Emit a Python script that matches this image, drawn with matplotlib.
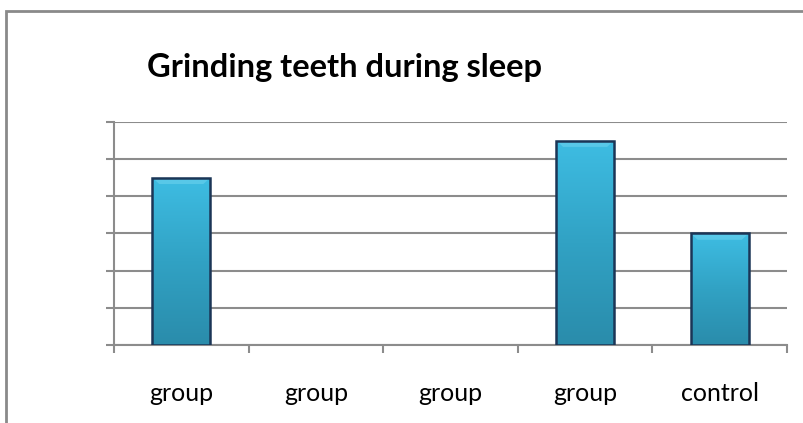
import numpy as np
import matplotlib.pyplot as plt
from matplotlib.patches import Rectangle
from matplotlib.colors import LinearSegmentedColormap

# categories and values of the bars
groups = ['group', 'group', 'group', 'group', 'control']
values = [4.5, 0, 0, 5.5, 3]

plt.rcParams['font.family'] = ['Lato', 'DejaVu Sans']

fig = plt.figure(figsize=(8.04, 4.23), dpi=100)
ax = fig.add_axes([0.1418, 0.1844, 0.8371, 0.5272])

# outer chart frame (right and bottom edges run off the canvas)
top = (423 - 11) / 423
fig.patches.append(Rectangle((6 / 804, -0.2), 1.2, top + 0.2,
                             transform=fig.transFigure, fill=False,
                             edgecolor='#8a8a8a', linewidth=2))

x = np.arange(len(groups))
bars = ax.bar(x, values, width=0.43, color='none', edgecolor='none', zorder=3)

# vertical gradient inside each bar
cmap = LinearSegmentedColormap.from_list('barfill', ['#2a8cab', '#31a2c4', '#3ebde3'])
grad = np.linspace(0, 1, 256).reshape(-1, 1)
for b in bars:
    h = b.get_height()
    if h <= 0:
        continue
    x0 = b.get_x()
    w = b.get_width()
    im = ax.imshow(grad, cmap=cmap, origin='lower', aspect='auto',
                   extent=[x0, x0 + w, 0, h], zorder=3.5)
    im.set_clip_path(b)
    # lighter bevel along the top
    ax.fill([x0, x0 + w, x0 + w * 0.88, x0 + w * 0.12], [h, h, h - 0.17, h - 0.17],
            color='#6fd3ee', alpha=0.55, lw=0, zorder=3.6)
    ax.bar(x0 + w / 2, h, width=w, fill=False, edgecolor='#1b3556',
           linewidth=1.8, zorder=4)

ax.set_xlim(-0.5, len(groups) - 0.5)
ax.set_ylim(0, 6)
ax.set_yticks(range(7))
ax.set_yticklabels([])
ax.grid(axis='y', color='#8c8c8c', linewidth=1.5, zorder=0)
ax.tick_params(axis='y', length=6, width=1.5, color='#8c8c8c', direction='out')

ax.set_xticks(x)
ax.set_xticklabels(groups, fontsize=18)
ax.set_xticks(np.arange(-0.5, len(groups)), minor=True)
ax.tick_params(axis='x', which='major', length=0, pad=27)
ax.tick_params(axis='x', which='minor', length=6, width=1.5, color='#8c8c8c')

for s in ['top', 'right']:
    ax.spines[s].set_visible(False)
for s in ['left', 'bottom']:
    ax.spines[s].set_color('#8c8c8c')
    ax.spines[s].set_linewidth(1.5)

fig.text(0.428, 0.84, 'Grinding teeth during sleep', ha='center', va='center',
         fontsize=23.5, fontweight='bold')

fig.savefig('out.png', dpi=100)
